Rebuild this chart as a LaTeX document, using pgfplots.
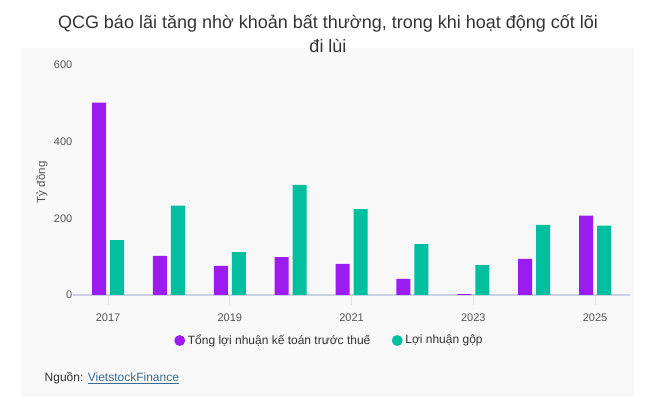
\documentclass[border=0pt]{standalone}
\usepackage{pgfplots}
\pgfplotsset{compat=1.18}
\usepackage{fontspec}
\setmainfont{Liberation Sans}
\definecolor{cpurple}{HTML}{9C1BEF}
\definecolor{cteal}{HTML}{01BE9F}
\definecolor{panel}{HTML}{F8F8F8}
\definecolor{axisc}{HTML}{C9D1E2}
\definecolor{tickc}{HTML}{555555}
\definecolor{titlec}{HTML}{333333}
\definecolor{linkc}{HTML}{3A6C95}
\begin{document}
\begin{tikzpicture}[x=0.75pt,y=0.75pt]
\path[use as bounding box] (0,0) rectangle (652,409);
\fill[panel] (21,12) rectangle (634,361);
\node[anchor=base, text=titlec, font=\fontsize{13.5}{16}\selectfont] at (328,380) {QCG báo lãi tăng nhờ khoản bất thường, trong khi hoạt động cốt lõi};
\node[anchor=base, text=titlec, font=\fontsize{13.5}{16}\selectfont] at (328,356.5) {đi lùi};
\node[anchor=west, text=titlec, font=\fontsize{9}{11}\selectfont] at (40,31) {Nguồn: \textcolor{linkc}{\underline{VietstockFinance}}};
\begin{axis}[
  at={(54.75pt,85.5pt)}, anchor=south west,
  scale only axis, width=417.75pt, height=172.5pt,
  xmin=2016.425, xmax=2025.575, ymin=0, ymax=600,
  axis x line=bottom, axis y line=left,
  x axis line style={-, draw=axisc, line width=0.8pt},
  y axis line style={draw=none},
  xtick={2017,2019,2021,2023,2025},
  xticklabels={2017,2019,2021,2023,2025},
  ytick={0,200,400,600},
  yticklabels={0,200,400,600},
  tick align=inside,
  major tick length=7.5pt,
  xtick style={draw=black!12, line width=0.6pt},
  ytick style={draw=none},
  ticklabel style={font=\fontsize{8.25}{10}\selectfont, text=tickc},
  xticklabel style={yshift=-3pt},
  yticklabel style={xshift=3pt},
  ylabel={Tỷ đồng},
  ylabel style={at={(axis description cs:-0.056,0.49)}, anchor=center, font=\fontsize{8.6}{10}\selectfont, text=tickc},
  ybar=3pt, bar width=10.5pt,
  legend columns=2,
  legend style={draw=none, fill=none, at={(0.461,-0.198)}, anchor=center,
    font=\fontsize{9}{11}\selectfont, text=titlec,
    /tikz/every even column/.append style={column sep=14pt}},
  legend image code/.code={\fill (0.2cm,0pt) circle (4.1pt);},
]
\addplot[fill=cpurple, draw=none] coordinates {(2017,502) (2018,102) (2019,76) (2020,99) (2021,81) (2022,42) (2023,2) (2024,94) (2025,207)};
\addplot[fill=cteal, draw=none] coordinates {(2017,143) (2018,233) (2019,112) (2020,287) (2021,224) (2022,133) (2023,78) (2024,183) (2025,181)};
\legend{Tổng lợi nhuận kế toán trước thuế, Lợi nhuận gộp}
\end{axis}
\end{tikzpicture}
\end{document}
